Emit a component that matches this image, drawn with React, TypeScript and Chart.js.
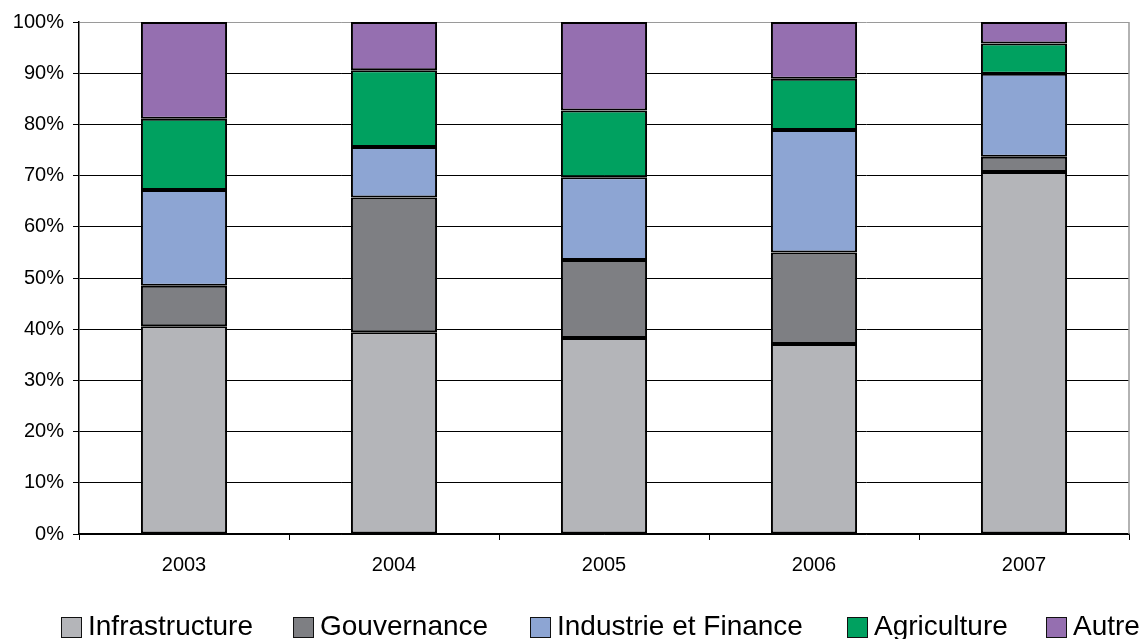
import React, { useEffect, useRef } from "react";
import { Chart, registerables } from "chart.js";

Chart.register(...registerables);

const years = ["2003", "2004", "2005", "2006", "2007"];
const infrastructure = [40.6, 39.4, 38.3, 37.1, 70.7];
const gouvernance = [7.9, 26.3, 15.2, 17.9, 3.0];
const industrieFinance = [18.7, 9.9, 16.2, 23.9, 16.2];
const agriculture = [13.9, 15.0, 13.0, 10.0, 5.9];
const autre = [18.9, 9.4, 17.3, 11.1, 4.2];

const seriesNames = ["Infrastructure", "Gouvernance", "Industrie et Finance", "Agriculture", "Autre"];
const seriesColors = ["#b4b5b9", "#7e7f83", "#8da5d3", "#00a160", "#956fb0"];
const legendLefts = [61, 293, 530, 847, 1046];

const FONT = "'Liberation Sans', Arial, sans-serif";

export default function App() {
  const canvasRef = useRef<HTMLCanvasElement | null>(null);

  useEffect(() => {
    const canvas = canvasRef.current;
    if (!canvas) return;
    const seriesData = [infrastructure, gouvernance, industrieFinance, agriculture, autre];

    const rightBorder = {
      id: "rightBorder",
      afterDatasetsDraw(chart: any) {
        const { ctx, chartArea } = chart;
        ctx.save();
        ctx.strokeStyle = "#9a9a9a";
        ctx.lineWidth = 1.5;
        ctx.beginPath();
        ctx.moveTo(chartArea.right, chartArea.top);
        ctx.lineTo(chartArea.right, chartArea.bottom);
        ctx.stroke();
        ctx.restore();
      },
    };

    const chart = new Chart(canvas, {
      type: "bar",
      data: {
        labels: years,
        datasets: seriesNames.map((name, i) => ({
          label: name,
          data: seriesData[i],
          backgroundColor: seriesColors[i],
          borderColor: "#000",
          borderWidth: 2,
          borderSkipped: false,
          barPercentage: 0.41,
          categoryPercentage: 1,
        })),
      },
      options: {
        responsive: false,
        animation: false,
        devicePixelRatio: 1,
        layout: { padding: { top: 22, right: 17, bottom: 65, left: 0 } },
        plugins: { legend: { display: false }, tooltip: { enabled: false } },
        scales: {
          x: {
            stacked: true,
            afterFit: (scale: any) => {
              scale.height = 40;
            },
            grid: {
              drawOnChartArea: false,
              drawTicks: true,
              tickLength: 6,
              color: "#000",
              offset: true,
            },
            border: { color: "#000", width: 1.5 },
            ticks: { color: "#000", font: { family: FONT, size: 20 }, padding: 13 },
          },
          y: {
            stacked: true,
            min: 0,
            max: 100,
            afterFit: (scale: any) => {
              scale.width = 79;
            },
            grid: {
              color: (ctx: any) => (ctx.tick && ctx.tick.value === 100 ? "#9a9a9a" : "#000"),
              lineWidth: 1,
              tickLength: 6,
              tickColor: "#000",
            },
            border: { color: "#000", width: 1.5 },
            ticks: {
              stepSize: 10,
              color: "#000",
              font: { family: FONT, size: 20 },
              padding: 9,
              callback: (v: any) => v + "%",
            },
          },
        },
      },
      plugins: [rightBorder],
    });

    return () => chart.destroy();
  }, []);

  return (
    <div style={{ position: "fixed", left: 0, top: 0, width: 1146, height: 639, background: "#fff" }}>
      <canvas ref={canvasRef} width={1146} height={639} style={{ display: "block" }} />
      {seriesNames.map((name, i) => (
        <div
          key={name}
          style={{
            position: "absolute",
            left: legendLefts[i],
            top: 612,
            display: "flex",
            alignItems: "center",
            fontFamily: FONT,
            fontSize: 28,
            lineHeight: "28px",
            color: "#000",
            whiteSpace: "nowrap",
          }}
        >
          <span
            style={{
              display: "inline-block",
              width: 21,
              height: 21,
              boxSizing: "border-box",
              border: "1.5px solid #111",
              background: seriesColors[i],
              marginRight: 6,
              marginTop: 3,
            }}
          />
          <span>{name}</span>
        </div>
      ))}
    </div>
  );
}
